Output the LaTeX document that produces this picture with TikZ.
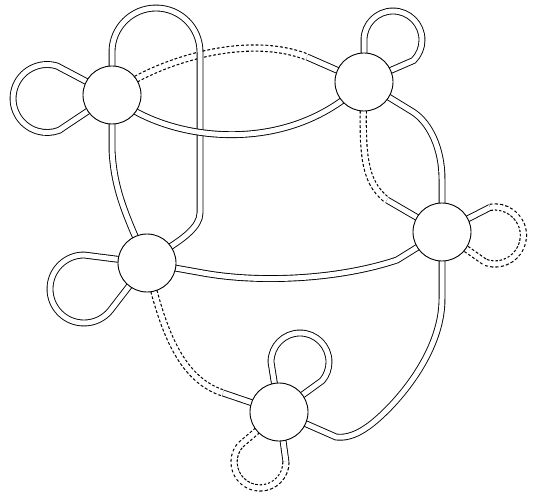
\documentclass[tikz,border=0pt]{standalone}
\begin{document}
\begin{tikzpicture}[x=1pt,y=1pt,
  strand/.style={draw=black, line width=0.9pt, double=white, double distance=5pt},
  dstrand/.style={draw=black, line width=7.3pt, dash pattern=on 2.8pt off 2pt,
    postaction={draw=white, line width=5pt, solid}},
  knot/.style={circle, draw=black, fill=white, minimum size=58pt, inner sep=0pt, line width=0.9pt}]
\useasboundingbox (0,0) rectangle (533,499);
% centres
\coordinate (A) at (112,404);
\coordinate (B) at (364,417);
\coordinate (C) at (147,236);
\coordinate (D) at (442,267);
\coordinate (E) at (279,87);
% A -- B upper (dashed then solid)
\draw[dstrand] (A) .. controls (145,432) and (240,468) .. (307,442);
\draw[strand] (307,442) -- (B);
% A top loop down to C
\draw[strand] (A) -- (112,447) arc[start angle=180,end angle=0,radius=44] -- (200,286)
  .. controls (200,272) and (182,260) .. (170,252) -- (C);
% A -- B lower
\draw[strand] (A) .. controls (160,360) and (285,338) .. (B);
% A left loop
\draw[strand] (A) -- (57,433) arc[start angle=73,end angle=291,radius=34] -- (A);
% A -- C
\draw[strand] (A) -- (112,349) .. controls (114,310) and (125,285) .. (C);
% B top loop
\draw[strand] (B) -- (364,459) arc[start angle=180,end angle=-45,radius=29] -- (B);
% B -- D solid
\draw[strand] (B) -- (413,387) .. controls (430,376) and (442,350) .. (442,320) -- (D);
% B -- D dashed then solid
\draw[dstrand] (B) .. controls (362,350) and (362,318) .. (387,299);
\draw[strand] (387,299) -- (D);
% D right loop
\draw[strand] (D) -- (490,291.6);
\draw[dstrand] (490,291.6) arc[start angle=100,end angle=-110,radius=28.5] -- (D);
% D -- C
\draw[strand] (D) -- (397,239) .. controls (337,219) and (258,216) .. (203,226) -- (C);
% D -- E
\draw[strand] (D) -- (442,200) .. controls (442,155) and (410,112) .. (387,89)
  .. controls (368,70) and (352,60) .. (336,62) -- (E);
% E top loop
\draw[strand] (E) -- (271,137) arc[start angle=180,end angle=-40,radius=29] -- (E);
% E bottom loop
\draw[strand] (E) -- (286,37);
\draw[dstrand] (286,37) arc[start angle=0,end angle=-220,radius=26] -- (E);
% C -- E
\draw[dstrand] (C) .. controls (162,170) and (180,120) .. (223,106);
\draw[strand] (223,106) -- (E);
% C left loop
\draw[strand] (C) -- (84,244) arc[start angle=90,end angle=320,radius=34] -- (C);
% circles
\node[knot] (nA) at (A) {};
\node[knot] (nB) at (B) {};
\node[knot] (nC) at (C) {};
\node[knot] (nD) at (D) {};
\node[knot] (nE) at (E) {};
\end{tikzpicture}
\end{document}
